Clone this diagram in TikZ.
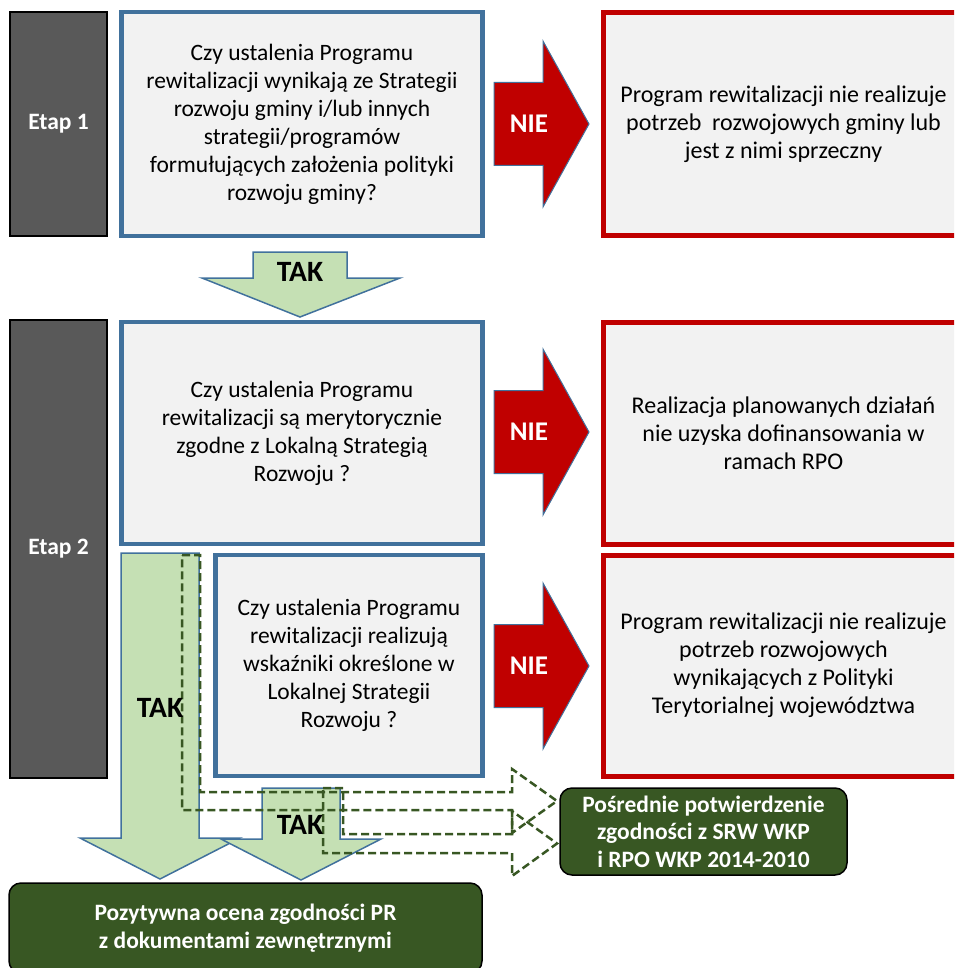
\documentclass[tikz,border=0pt]{standalone}
\usepackage{fontspec}
\setmainfont{Carlito}
\usepackage{tikz}
\usetikzlibrary{positioning}
\definecolor{qblue}{HTML}{41719C}
\definecolor{nred}{HTML}{C00000}
\definecolor{boxgray}{HTML}{F2F2F2}
\definecolor{etapgray}{HTML}{595959}
\definecolor{lgreen}{HTML}{C5E0B4}
\definecolor{dkgreen}{HTML}{385723}
\tikzset{
    txt/.style={font=\fontsize{23.5}{28}\selectfont, align=center, inner sep=0pt},
    etapbox/.style={rectangle, draw=black, fill=etapgray, line width=1.5pt, text=white, txt, font=\fontsize{23.5}{28}\selectfont\bfseries},
    qbox/.style={rectangle, draw=qblue, fill=boxgray, line width=4.5pt, txt},
    nobox/.style={rectangle, draw=nred, fill=boxgray, line width=5pt, txt, font=\fontsize{24}{28}\selectfont},
    okbox/.style={rectangle, rounded corners=12pt, draw=black, fill=dkgreen, line width=1.5pt, text=white, txt, font=\fontsize{23.5}{27.5}\selectfont\bfseries},
    niearrow/.style={fill=nred, draw=qblue, line width=1pt},
    takarrow/.style={fill=lgreen, draw=qblue, line width=1.5pt},
    dasharrow/.style={draw=dkgreen, line width=2.5pt, dash pattern=on 8pt off 4pt},
    bigword/.style={font=\fontsize{27}{30}\selectfont\bfseries, inner sep=0pt},
    takword/.style={font=\fontsize{29.5}{32}\selectfont\bfseries, inner sep=0pt}
}
\begin{document}
\begin{tikzpicture}[x=1pt, y=-1pt]
    \useasboundingbox (0,0) rectangle (954,968);
    \clip (0,0) rectangle (954,968);

    % stages
    \node[etapbox, minimum width=97, minimum height=224] (etap1) at (58.5,124) {Etap 1};
    \node[etapbox, minimum width=97, minimum height=458] (etap2) at (58.5,549) {Etap 2};

    % questions
    \node[qbox, minimum width=361, minimum height=224] (q1) at (302,124)
      {Czy ustalenia Programu\\
      rewitalizacji wynikają ze Strategii\\
      rozwoju gminy i/lub innych\\
      strategii/programów\\
      formułujących założenia polityki\\
      rozwoju gminy?};
    \node[qbox, minimum width=361, minimum height=222] (q2) at (302,433)
      {Czy ustalenia Programu\\
      rewitalizacji są merytorycznie\\
      zgodne z Lokalną Strategią\\
      Rozwoju ?};
    \node[qbox, minimum width=267, minimum height=221] (q3) at (349,665.5)
      {Czy ustalenia Programu\\
      rewitalizacji realizują\\
      wskaźniki określone w\\
      Lokalnej Strategii\\
      Rozwoju ?};

    % negative answers
    \node[nobox, minimum width=360, minimum height=223] (r1) at (783.5,124)
      {Program rewitalizacji nie realizuje\\
      potrzeb\ \ rozwojowych gminy lub\\
      jest z nimi sprzeczny};
    \node[nobox, minimum width=360, minimum height=222] (r2) at (783.5,433)
      {Realizacja planowanych działań\\
      nie uzyska dofinansowania w\\
      ramach RPO};
    \node[nobox, minimum width=360, minimum height=221] (r3) at (783.5,665.5)
      {Program rewitalizacji nie realizuje\\
      potrzeb rozwojowych\\
      wynikających z Polityki\\
      Terytorialnej województwa};

    % NIE arrows
    \foreach \y/\i in {124/1, 432/2, 666/3} {
      \draw[niearrow] (494,\y-41.5) -- (543,\y-41.5) -- (543,\y-83) -- (589,\y)
        -- (543,\y+83) -- (543,\y+41.5) -- (494,\y+41.5) -- cycle;
      \node[bigword, text=white] (nie\i) at (529,\y) {NIE};
    }

    % TAK arrows
    \draw[takarrow] (253,252) -- (347,252) -- (347,278) -- (400,278) -- (300,317)
      -- (202,278) -- (253,278) -- cycle;
    \node[takword] (tak1) at (300,272) {TAK};
    \draw[takarrow] (121,553) -- (199,553) -- (199,838) -- (240,838) -- (160,879)
      -- (80,838) -- (121,838) -- cycle;
    \draw[takarrow] (262,788) -- (340,788) -- (340,839) -- (381,839) -- (301,880)
      -- (221,839) -- (262,839) -- cycle;

    % indirect confirmation
    \draw[dasharrow] (182,555) -- (200,555) -- (200,792) -- (512,792) -- (512,769)
      -- (557,801) -- (512,833) -- (512,810) -- (182,810) -- cycle;
    \draw[dasharrow] (323,788) -- (343,788) -- (343,834) -- (512,834) -- (512,811)
      -- (557,843.5) -- (512,876) -- (512,853) -- (323,853) -- cycle;
    \node[takword] (tak2) at (160,708) {TAK};
    \node[takword] (tak3) at (300,825) {TAK};

    % results
    \node[okbox, minimum width=287, minimum height=87] (indirect) at (703.5,831.5)
      {Pośrednie potwierdzenie\\
      zgodności z SRW WKP\\
      i RPO WKP 2014-2010};
    \node[okbox, minimum width=473, minimum height=90] (positive) at (245.5,928)
      {Pozytywna ocena zgodności PR\\
      z dokumentami zewnętrznymi};
\end{tikzpicture}
\end{document}
